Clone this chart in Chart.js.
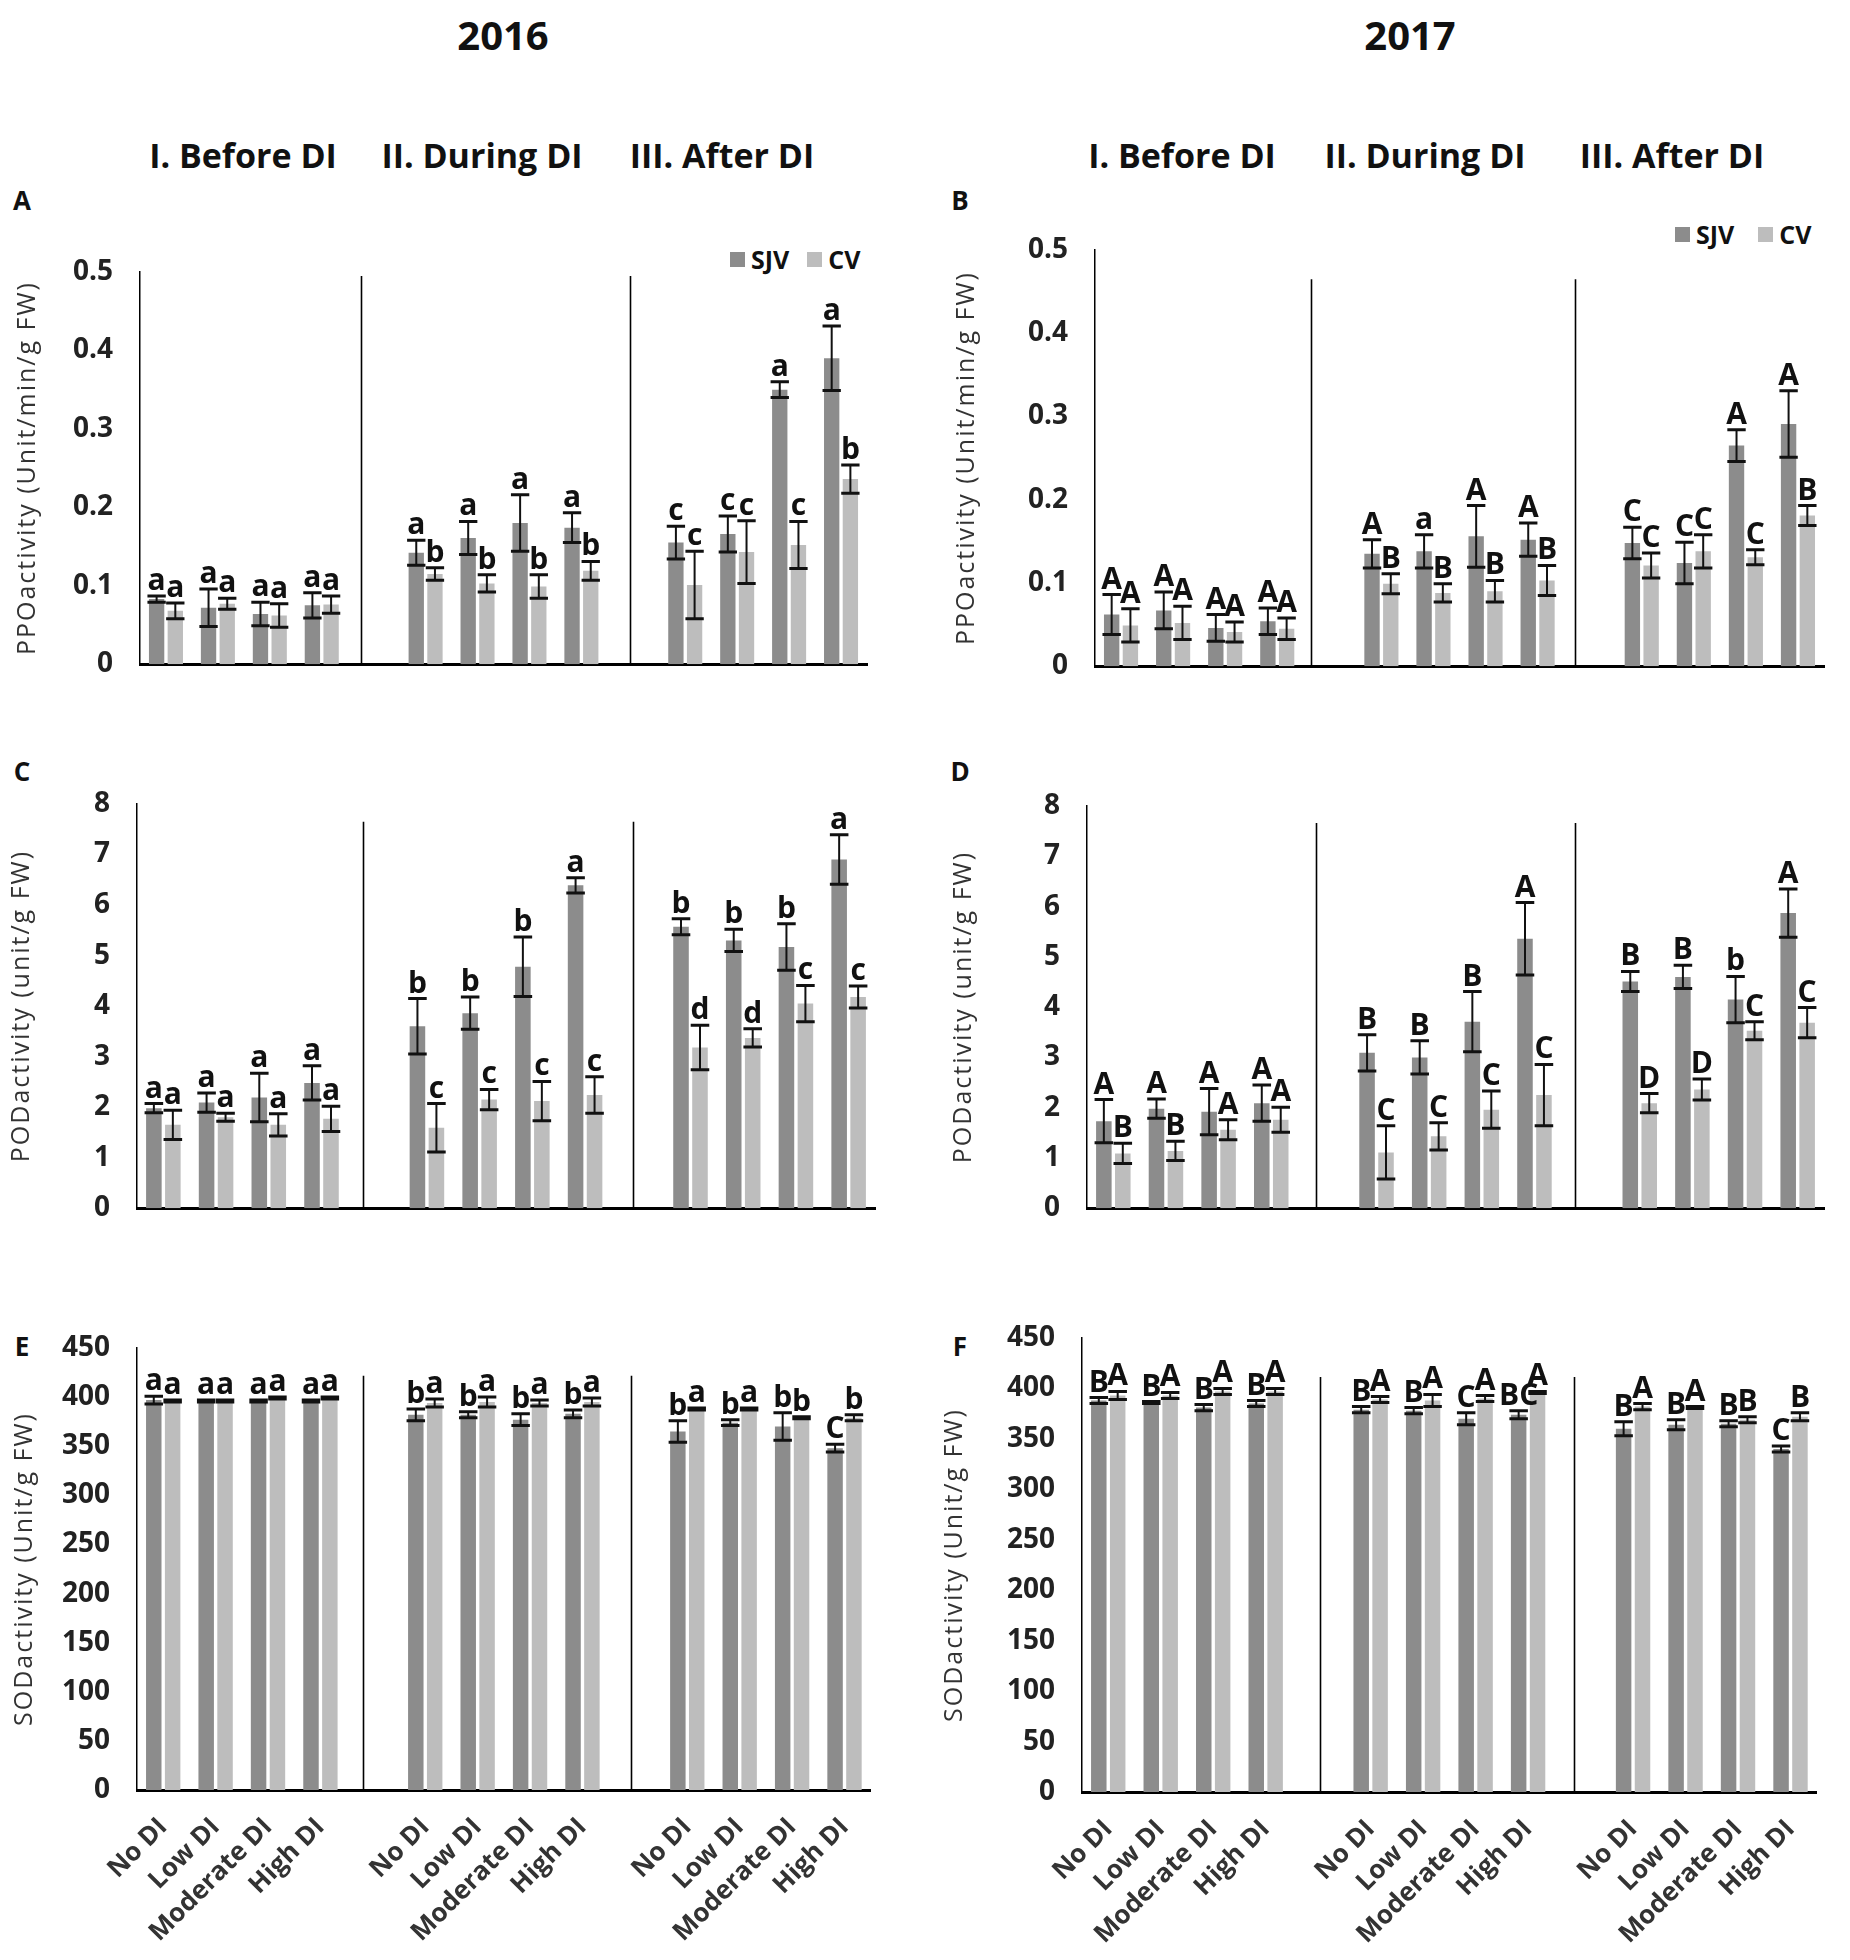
<!DOCTYPE html>
<html><head><meta charset="utf-8">
<script src="https://cdn.jsdelivr.net/npm/chart.js@4.4.1/dist/chart.umd.min.js"></script>
<style>
html,body{margin:0;padding:0;background:#fff;}
#wrap{position:relative;width:1850px;height:1960px;overflow:hidden;font-family:'Open Sans',sans-serif;}
.t{position:absolute;transform:translate(-50%,-50%);white-space:nowrap;font-weight:700;color:#111;line-height:1;}
.lg{position:absolute;display:flex;align-items:center;font-weight:700;font-size:25px;color:#111;transform:translateY(-50%);}
.sq{display:inline-block;width:15px;height:15px;margin-right:6px;}
canvas{position:absolute;}
</style></head><body><div id="wrap"></div>
<script>
// ---------- DATA ----------
const years = ['2016', '2017'];
const periods = ['I. Before DI', 'II. During DI', 'III. After DI'];
const treatments = ['No DI', 'Low DI', 'Moderate DI', 'High DI'];
const seriesNames = ['SJV', 'CV'];

// A: PPO 2016
const ppo2016_SJV = [0.083, 0.072, 0.064, 0.075, 0.142, 0.161, 0.180, 0.174, 0.155, 0.166, 0.350, 0.390];
const ppo2016_SJV_err = [0.004, 0.024, 0.015, 0.016, 0.016, 0.021, 0.036, 0.019, 0.021, 0.023, 0.010, 0.041];
const ppo2016_CV = [0.068, 0.077, 0.062, 0.076, 0.115, 0.103, 0.099, 0.119, 0.101, 0.143, 0.152, 0.236];
const ppo2016_CV_err = [0.010, 0.007, 0.015, 0.011, 0.008, 0.011, 0.015, 0.012, 0.043, 0.040, 0.030, 0.018];
const ppo2016_SJV_let = ['a','a','a','a','a','a','a','a','c','c','a','a'];
const ppo2016_CV_let = ['a','a','a','a','b','b','b','b','c','c','c','b'];

// B: PPO 2017
const ppo2017_SJV = [0.062, 0.067, 0.046, 0.054, 0.135, 0.138, 0.156, 0.152, 0.148, 0.124, 0.265, 0.291];
const ppo2017_SJV_err = [0.024, 0.022, 0.016, 0.016, 0.017, 0.020, 0.037, 0.020, 0.019, 0.025, 0.019, 0.040];
const ppo2017_CV = [0.049, 0.052, 0.041, 0.045, 0.099, 0.088, 0.090, 0.103, 0.121, 0.138, 0.131, 0.181];
const ppo2017_CV_err = [0.020, 0.020, 0.012, 0.013, 0.012, 0.011, 0.013, 0.018, 0.015, 0.020, 0.009, 0.012];
const ppo2017_SJV_let = ['A','A','A','A','A','a','A','A','C','C','A','A'];
const ppo2017_CV_let = ['A','A','A','A','B','B','B','B','C','C','C','B'];

// C: POD 2016
const pod2016_SJV = [1.98, 2.09, 2.19, 2.48, 3.60, 3.86, 4.78, 6.39, 5.57, 5.30, 5.17, 6.90];
const pod2016_SJV_err = [0.09, 0.19, 0.48, 0.34, 0.55, 0.32, 0.59, 0.15, 0.16, 0.22, 0.46, 0.49];
const pod2016_CV = [1.65, 1.80, 1.65, 1.77, 1.59, 2.15, 2.12, 2.24, 3.18, 3.37, 4.05, 4.18];
const pod2016_CV_err = [0.29, 0.08, 0.22, 0.25, 0.48, 0.20, 0.39, 0.36, 0.44, 0.18, 0.36, 0.22];
const pod2016_SJV_let = ['a','a','a','a','b','b','b','a','b','b','b','a'];
const pod2016_CV_let = ['a','a','a','a','c','c','c','c','d','d','c','c'];

// D: POD 2017
const pod2017_SJV = [1.73, 1.98, 1.92, 2.09, 3.09, 3.00, 3.71, 5.36, 4.51, 4.60, 4.15, 5.87];
const pod2017_SJV_err = [0.43, 0.19, 0.46, 0.36, 0.36, 0.33, 0.60, 0.72, 0.20, 0.23, 0.46, 0.48];
const pod2017_CV = [1.09, 1.14, 1.56, 1.76, 1.11, 1.43, 1.96, 2.25, 2.09, 2.36, 3.53, 3.69];
const pod2017_CV_err = [0.20, 0.19, 0.20, 0.25, 0.53, 0.27, 0.37, 0.61, 0.19, 0.21, 0.18, 0.30];
const pod2017_SJV_let = ['A','A','A','A','B','B','B','A','B','B','b','A'];
const pod2017_CV_let = ['B','B','A','A','C','C','C','C','D','D','C','C'];

// E: SOD 2016
const sod2016_SJV = [397, 396, 396, 396, 382, 382, 377, 383, 365, 374, 370, 348];
const sod2016_SJV_err = [4, 1, 1, 1, 6, 3, 6, 4, 11, 3, 14, 4];
const sod2016_CV = [396, 396, 399, 399, 394, 395, 394, 395, 388, 388, 379, 379];
const sod2016_CV_err = [1, 1, 1, 1, 4, 5, 3, 4, 1, 1, 1, 3];
const sod2016_SJV_let = ['a','a','a','a','b','b','b','b','b','b','b','C'];
const sod2016_CV_let = ['a','a','a','a','a','a','a','a','a','a','b','b'];

// F: SOD 2017
const sod2017_SJV = [388, 386, 381, 385, 379, 378, 370, 374, 360, 364, 365, 340];
const sod2017_SJV_err = [3, 1, 3, 3, 3, 3, 6, 4, 7, 5, 3, 3];
const sod2017_CV = [393, 393, 397, 397, 389, 388, 390, 396, 382, 381, 369, 372];
const sod2017_CV_err = [4, 3, 3, 3, 3, 6, 3, 1, 3, 1, 3, 4];
const sod2017_SJV_let = ['B','B','B','B','B','B','C','BC','B','B','B','C'];
const sod2017_CV_let = ['A','A','A','A','A','A','A','A','A','A','B','B'];

const ppoTitle = 'PPOactivity (Unit/min/g FW)';
const podTitle = 'PODactivity (unit/g FW)';
const sodTitle = 'SODactivity (Unit/g FW)';

// ---------- STYLE / LAYOUT ----------
const SJV_COLOR = '#8c8c8c';
const CV_COLOR = '#bdbdbd';
const FONT = "'Open Sans', sans-serif";
const YAXIS_W = 140;
const PAD_TOP = 45;

const panels = [
  {key:'A', sjv:ppo2016_SJV, sjvErr:ppo2016_SJV_err, cv:ppo2016_CV, cvErr:ppo2016_CV_err, sjvLet:ppo2016_SJV_let, cvLet:ppo2016_CV_let,
   yMax:0.5, yStep:0.1, yTitle:ppoTitle, axisX:140, endX:867, topY:272, baseY:700, titleX:28, dividers:[3.76, 8.93], divTop:0.99, xLabels:false},
  {key:'B', sjv:ppo2017_SJV, sjvErr:ppo2017_SJV_err, cv:ppo2017_CV, cvErr:ppo2017_CV_err, sjvLet:ppo2017_SJV_let, cvLet:ppo2017_CV_let,
   yMax:0.5, yStep:0.1, yTitle:ppoTitle, axisX:1095, endX:1824, topY:250, baseY:702, titleX:967, dividers:[3.65, 8.72], divTop:0.93, xLabels:false},
  {key:'C', sjv:pod2016_SJV, sjvErr:pod2016_SJV_err, cv:pod2016_CV, cvErr:pod2016_CV_err, sjvLet:pod2016_SJV_let, cvLet:pod2016_CV_let,
   yMax:8, yStep:1, yTitle:podTitle, axisX:137, endX:875, topY:804, baseY:1244, titleX:22, dividers:[3.78, 8.91], divTop:0.956, xLabels:false},
  {key:'D', sjv:pod2017_SJV, sjvErr:pod2017_SJV_err, cv:pod2017_CV, cvErr:pod2017_CV_err, sjvLet:pod2017_SJV_let, cvLet:pod2017_CV_let,
   yMax:8, yStep:1, yTitle:podTitle, axisX:1087, endX:1824, topY:806, baseY:1244, titleX:964, dividers:[3.85, 8.77], divTop:0.958, xLabels:false},
  {key:'E', sjv:sod2016_SJV, sjvErr:sod2016_SJV_err, cv:sod2016_CV, cvErr:sod2016_CV_err, sjvLet:sod2016_SJV_let, cvLet:sod2016_CV_let,
   yMax:450, yStep:50, yTitle:sodTitle, axisX:137, endX:877, topY:1348, baseY:1790, titleX:25, dividers:[3.82, 8.93], divTop:0.937, xLabels:true},
  {key:'F', sjv:sod2017_SJV, sjvErr:sod2017_SJV_err, cv:sod2017_CV, cvErr:sod2017_CV_err, sjvLet:sod2017_SJV_let, cvLet:sod2017_CV_let,
   yMax:450, yStep:50, yTitle:sodTitle, axisX:1082, endX:1823, topY:1338, baseY:1792, titleX:955, dividers:[4.03, 8.88], divTop:0.914, xLabels:true},
];

// expand 12 values into 14 slots (blank spacer slot between periods)
function expand(arr) {
  const out = [];
  for (let g = 0; g < 3; g++) {
    for (let t = 0; t < 4; t++) out.push(arr[g * 4 + t]);
    if (g < 2) out.push(null);
  }
  return out;
}
const slotLabels = expand(periods.flatMap(() => treatments)).map(v => v === null ? '' : v);

const wrap = document.getElementById('wrap');
function addText(txt, x, y, size) {
  const d = document.createElement('div');
  d.className = 't';
  d.style.left = x + 'px'; d.style.top = y + 'px'; d.style.fontSize = size + 'px';
  d.textContent = txt;
  wrap.appendChild(d);
}
// titles & headers
const yearX = [503, 1410];
const headerX = [[243, 482, 722], [1182, 1425, 1672]];
years.forEach((yr, i) => {
  addText(yr, yearX[i], 35, 40);
  periods.forEach((p, j) => addText(p, headerX[i][j], 155, 34));
});
// panel letters
const letterPos = {A:[22,200], B:[960,200], C:[22,771], D:[960,771], E:[22,1346], F:[960,1346]};
Object.keys(letterPos).forEach(k => addText(k, letterPos[k][0], letterPos[k][1], 26));
// legends
function addLegend(x, y, gap) {
  const d = document.createElement('div');
  d.className = 'lg';
  d.style.left = x + 'px'; d.style.top = y + 'px';
  d.innerHTML = '<span class="sq" style="background:' + SJV_COLOR + '"></span><span>' + seriesNames[0] +
    '</span><span class="sq" style="background:' + CV_COLOR + ';margin-left:' + gap + 'px"></span><span>' + seriesNames[1] + '</span>';
  wrap.appendChild(d);
}
addLegend(730, 259, 18);
addLegend(1675, 234, 24);

// plugin: error bars, letters, dividers, y-title
const extras = {
  id: 'extras',
  afterDatasetsDraw(chart) {
    const cfg = chart.options.plugins.extras;
    const ctx = chart.ctx, xs = chart.scales.x, ys = chart.scales.y, area = chart.chartArea;
    ctx.save();
    // dividers between periods
    ctx.strokeStyle = '#000'; ctx.lineWidth = 1.6;
    cfg.dividers.forEach(d => {
      const px = Math.round(xs.getPixelForValue(d)) + 0.5;
      ctx.beginPath();
      ctx.moveTo(px, ys.getPixelForValue(cfg.yMax * cfg.divTop));
      ctx.lineTo(px, area.bottom);
      ctx.stroke();
    });
    // error bars + letters
    chart.data.datasets.forEach((ds, di) => {
      const meta = chart.getDatasetMeta(di);
      meta.data.forEach((bar, i) => {
        const v = ds.data[i];
        if (v === null || v === undefined) return;
        const e = ds.errors[i];
        const yT = ys.getPixelForValue(v + e), yB = ys.getPixelForValue(v - e);
        const hw = bar.width / 2 + 1.5;
        ctx.strokeStyle = '#111';
        ctx.lineWidth = 2;
        ctx.beginPath(); ctx.moveTo(bar.x, yT); ctx.lineTo(bar.x, yB); ctx.stroke();
        ctx.lineWidth = 3;
        ctx.beginPath();
        ctx.moveTo(bar.x - hw, yT); ctx.lineTo(bar.x + hw, yT);
        ctx.moveTo(bar.x - hw, yB); ctx.lineTo(bar.x + hw, yB);
        ctx.stroke();
        ctx.fillStyle = '#111';
        ctx.font = 'bold 30px ' + FONT;
        ctx.textAlign = 'center'; ctx.textBaseline = 'alphabetic';
        ctx.fillText(ds.letters[i], bar.x, yT - 6);
      });
    });
    // y-axis title
    ctx.fillStyle = '#333';
    ctx.font = '25px ' + FONT;
    ctx.letterSpacing = '2px';
    ctx.textAlign = 'center'; ctx.textBaseline = 'middle';
    ctx.translate(cfg.titleX, (area.top + area.bottom) / 2);
    ctx.rotate(-Math.PI / 2);
    ctx.fillText(cfg.yTitle, 0, 0);
    ctx.restore();
  }
};

panels.forEach(p => {
  const bottomH = p.xLabels ? (1960 - p.baseY) : 8;
  const left = p.axisX - YAXIS_W;
  const top = p.topY - PAD_TOP;
  const width = p.endX + 12 - left;
  const height = p.baseY + bottomH - top;
  const cv = document.createElement('canvas');
  cv.width = width; cv.height = height;
  cv.style.left = left + 'px'; cv.style.top = top + 'px';
  cv.style.width = width + 'px'; cv.style.height = height + 'px';
  wrap.appendChild(cv);

  new Chart(cv, {
    type: 'bar',
    data: {
      labels: slotLabels,
      datasets: [
        {label: seriesNames[0], data: expand(p.sjv), errors: expand(p.sjvErr), letters: expand(p.sjvLet),
         backgroundColor: SJV_COLOR, categoryPercentage: 0.72, barPercentage: 0.82},
        {label: seriesNames[1], data: expand(p.cv), errors: expand(p.cvErr), letters: expand(p.cvLet),
         backgroundColor: CV_COLOR, categoryPercentage: 0.72, barPercentage: 0.82}
      ]
    },
    options: {
      responsive: false, animation: false, devicePixelRatio: 1,
      layout: {padding: {top: PAD_TOP, right: 12, left: 0, bottom: 0}},
      plugins: {
        legend: {display: false}, tooltip: {enabled: false},
        extras: {dividers: p.dividers, divTop: p.divTop, yMax: p.yMax, yTitle: p.yTitle, titleX: p.titleX - left}
      },
      scales: {
        x: {
          type: 'category', offset: true,
          grid: {display: false, drawTicks: false},
          border: {display: true, color: '#000', width: 3},
          ticks: {display: p.xLabels, autoSkip: false, maxRotation: 45, minRotation: 45, padding: 22,
                  color: '#333', font: {family: FONT, weight: 'bold', size: 26}},
          afterFit: s => { s.height = bottomH; }
        },
        y: {
          min: 0, max: p.yMax,
          grid: {display: false, drawTicks: false},
          border: {display: true, color: '#000', width: 1.5},
          ticks: {stepSize: p.yStep, padding: 27, color: '#222', font: {family: FONT, weight: 'bold', size: 28}},
          afterFit: s => { s.width = YAXIS_W; }
        }
      }
    },
    plugins: [extras]
  });
});
</script></body></html>
